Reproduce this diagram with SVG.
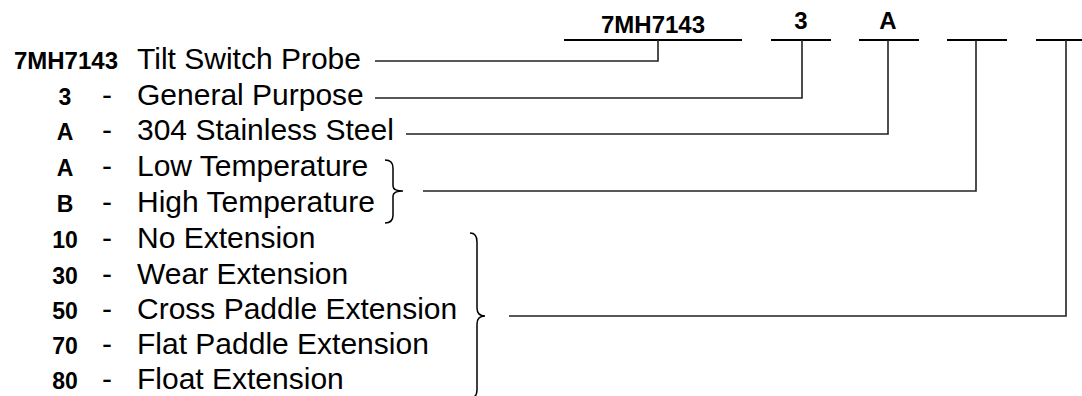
<svg xmlns="http://www.w3.org/2000/svg" width="1082" height="396" viewBox="0 0 1082 396">
<style>
.code{font-family:"Liberation Sans",Arial,sans-serif;font-weight:bold;font-size:23px;fill:#000;text-anchor:middle}
.desc{font-family:"Liberation Sans",Arial,sans-serif;font-size:30px;fill:#000}
.dash{font-family:"Liberation Sans",Arial,sans-serif;font-size:30px;fill:#000;text-anchor:middle}
.hdr{font-family:"Liberation Sans",Arial,sans-serif;font-weight:bold;font-size:24px;fill:#000;text-anchor:middle}
.slot{stroke:#000;stroke-width:2.2;fill:none}
.conn{stroke:#222;stroke-width:1.6;fill:none}
.brace{stroke:#000;stroke-width:1.5;fill:none}
</style>
<rect width="1082" height="396" fill="#fff"/>
<g id="header">
  <g id="slot-base"><line class="slot" x1="564" y1="40" x2="742" y2="40"/><text class="hdr" x="653" y="33">7MH7143</text></g>
  <g id="slot-3"><line class="slot" x1="771" y1="40" x2="831" y2="40"/><text class="hdr" x="801" y="29">3</text></g>
  <g id="slot-A"><line class="slot" x1="859" y1="40" x2="919" y2="40"/><text class="hdr" x="888" y="29">A</text></g>
  <g id="slot-temp"><line class="slot" x1="947" y1="40" x2="1007" y2="40"/></g>
  <g id="slot-ext"><line class="slot" x1="1036" y1="40" x2="1082" y2="40"/></g>
</g>
<g id="row-base"><text class="code" x="118" y="69" style="text-anchor:end;font-size:24px">7MH7143</text><text class="desc" x="137" y="69">Tilt Switch Probe</text></g>
<g id="row-3"><text class="code" x="65" y="105">3</text><text class="dash" x="107" y="105">-</text><text class="desc" x="137" y="105">General Purpose</text></g>
<g id="row-A-ss"><text class="code" x="65" y="140">A</text><text class="dash" x="107" y="140">-</text><text class="desc" x="137" y="140">304 Stainless Steel</text></g>
<g id="row-A-low"><text class="code" x="65" y="176">A</text><text class="dash" x="107" y="176">-</text><text class="desc" x="137" y="176">Low Temperature</text></g>
<g id="row-B-high"><text class="code" x="65" y="212">B</text><text class="dash" x="107" y="212">-</text><text class="desc" x="137" y="212">High Temperature</text></g>
<g id="row-10"><text class="code" x="65" y="248">10</text><text class="dash" x="107" y="248">-</text><text class="desc" x="137" y="248">No Extension</text></g>
<g id="row-30"><text class="code" x="65" y="284">30</text><text class="dash" x="107" y="284">-</text><text class="desc" x="137" y="284">Wear Extension</text></g>
<g id="row-50"><text class="code" x="65" y="319">50</text><text class="dash" x="107" y="319">-</text><text class="desc" x="137" y="319">Cross Paddle Extension</text></g>
<g id="row-70"><text class="code" x="65" y="354">70</text><text class="dash" x="107" y="354">-</text><text class="desc" x="137" y="354">Flat Paddle Extension</text></g>
<g id="row-80"><text class="code" x="65" y="389">80</text><text class="dash" x="107" y="389">-</text><text class="desc" x="137" y="389">Float Extension</text></g>
<g id="braces">
  <path class="brace" d="M385,160 Q393,160 393,168 L393,186 Q393,191 403,191 Q393,191 393,196 L393,215 Q393,223 385,223"/>
  <path class="brace" d="M470,233 Q477,233 477,242 L477,308 Q477,316 485,316 Q477,316 477,324 L477,390 Q477,398 470,398"/>
</g>
<g id="connectors">
  <polyline class="conn" points="375,61 658,61 658,40"/>
  <polyline class="conn" points="375,98 802,98 802,40"/>
  <polyline class="conn" points="406,134 888,134 888,40"/>
  <polyline class="conn" points="423,191 976,191 976,40"/>
  <polyline class="conn" points="509,316 1066,316 1066,40"/>
</g>
</svg>
